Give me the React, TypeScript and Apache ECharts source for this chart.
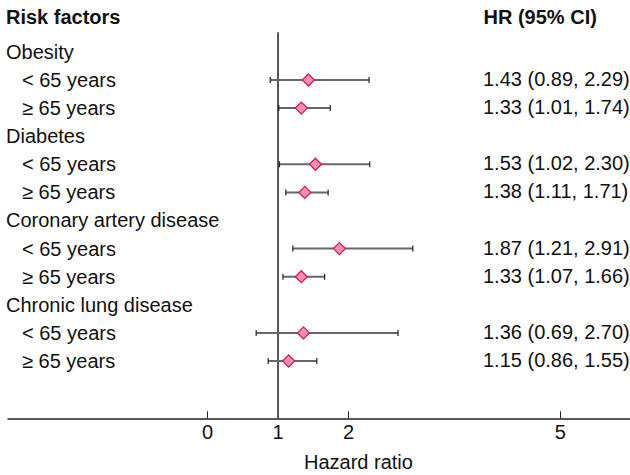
import React, { useEffect, useRef } from "react";
import * as echarts from "echarts";

const categories = ["Obesity", "Diabetes", "Coronary artery disease", "Chronic lung disease"];
const subgroups = ["< 65 years", "≥ 65 years"];
const hr = [1.43, 1.33, 1.53, 1.38, 1.87, 1.33, 1.36, 1.15];
const lower = [0.89, 1.01, 1.02, 1.11, 1.21, 1.07, 0.69, 0.86];
const upper = [2.29, 1.74, 2.3, 1.71, 2.91, 1.66, 2.7, 1.55];
const tickValues = [0, 1, 2, 5];
const headerLeft = "Risk factors";
const headerRight = "HR (95% CI)";
const axisTitle = "Hazard ratio";

const FONT = "'Liberation Sans', Arial, Helvetica, sans-serif";

export default function App() {
  const ref = useRef<HTMLDivElement>(null);
  useEffect(() => {
    if (!ref.current) return;
    const chart = echarts.init(ref.current, null, { renderer: "svg" });

    const labelRows: any[] = [];
    const estRows: any[] = [];
    const barRows: any[] = [];
    const hrRows: any[] = [];
    categories.forEach((c, i) => {
      const base = 1 + i * 3;
      labelRows.push([0, base, c, 0]);
      subgroups.forEach((s, j) => {
        const k = i * 2 + j;
        const row = base + 1 + j;
        labelRows.push([0, row, s, 1]);
        estRows.push([hr[k], row]);
        barRows.push([lower[k], row, upper[k]]);
        hrRows.push([0, row, `${hr[k].toFixed(2)} (${lower[k].toFixed(2)}, ${upper[k].toFixed(2)})`]);
      });
    });

    const option: any = {
      animation: false,
      grid: { left: 8, right: 0, top: 0, bottom: 56.7 },
      xAxis: {
        type: "value",
        min: -2.827,
        max: 5.988,
        splitLine: { show: false },
        axisLine: { onZero: false, lineStyle: { color: "#222", width: 1.5 } },
        axisTick: {
          customValues: tickValues,
          inside: true,
          length: 7,
          lineStyle: { color: "#222", width: 1 },
        },
        axisLabel: {
          customValues: tickValues,
          fontSize: 20,
          color: "#111",
          margin: 4,
          fontFamily: FONT,
        },
      },
      yAxis: {
        type: "value",
        inverse: true,
        min: -0.847,
        max: 14.04,
        show: false,
      },
      graphic: [
        {
          type: "text",
          left: 6,
          top: 7,
          style: { text: headerLeft, fontSize: 20, fontWeight: "bold", fontFamily: FONT, fill: "#111" },
        },
        {
          type: "text",
          left: 483.5,
          top: 7,
          style: { text: headerRight, fontSize: 20, fontWeight: "bold", fontFamily: FONT, fill: "#111" },
        },
        {
          type: "text",
          left: 304,
          top: 452,
          style: { text: axisTitle, fontSize: 20, fontFamily: FONT, fill: "#111" },
        },
      ],
      series: [
        {
          type: "line",
          data: [
            [1, 0.3],
            [1, 14.04],
          ],
          symbol: "none",
          lineStyle: { color: "#555", width: 2 },
          z: 1,
        },
        {
          type: "custom",
          coordinateSystem: "cartesian2d",
          encode: { x: [0, 2], y: 1 },
          data: barRows,
          renderItem: (params: any, api: any) => {
            const lo = api.coord([api.value(0), api.value(1)]);
            const hi = api.coord([api.value(2), api.value(1)]);
            const h = 3;
            return {
              type: "group",
              children: [
                {
                  type: "line",
                  shape: { x1: lo[0], y1: lo[1], x2: hi[0], y2: hi[1] },
                  style: { stroke: "#666", lineWidth: 2 },
                },
                {
                  type: "line",
                  shape: { x1: lo[0], y1: lo[1] - h, x2: lo[0], y2: lo[1] + h },
                  style: { stroke: "#222", lineWidth: 1.2 },
                },
                {
                  type: "line",
                  shape: { x1: hi[0], y1: hi[1] - h, x2: hi[0], y2: hi[1] + h },
                  style: { stroke: "#222", lineWidth: 1.2 },
                },
              ],
            };
          },
          z: 2,
        },
        {
          type: "scatter",
          data: estRows,
          symbol: "diamond",
          symbolSize: 12,
          itemStyle: { color: "#f590b0", borderColor: "#d81b4f", borderWidth: 1.3, opacity: 1 },
          z: 3,
        },
        {
          type: "custom",
          coordinateSystem: "cartesian2d",
          encode: { x: 0, y: 1 },
          data: labelRows,
          renderItem: (params: any, api: any) => {
            const p = api.coord([0, api.value(1)]);
            const item = labelRows[params.dataIndex];
            const indent = item[3] === 1 ? 22 : 6;
            return {
              type: "text",
              x: indent,
              y: p[1],
              style: {
                text: item[2],
                fontSize: 20,
                fontFamily: FONT,
                fill: "#111",
                align: "left",
                verticalAlign: "middle",
              },
            };
          },
        },
        {
          type: "custom",
          coordinateSystem: "cartesian2d",
          encode: { x: 0, y: 1 },
          data: hrRows,
          renderItem: (params: any, api: any) => {
            const p = api.coord([0, api.value(1)]);
            const item = hrRows[params.dataIndex];
            return {
              type: "text",
              x: 483,
              y: p[1] - 1,
              style: {
                text: item[2],
                fontSize: 20,
                fontFamily: FONT,
                fill: "#111",
                align: "left",
                verticalAlign: "middle",
              },
            };
          },
        },
      ],
    };
    chart.setOption(option);
    return () => chart.dispose();
  }, []);
  return (
    <div
      ref={ref}
      style={{ position: "fixed", left: 0, top: 0, width: 630, height: 475, background: "#fff" }}
    />
  );
}
